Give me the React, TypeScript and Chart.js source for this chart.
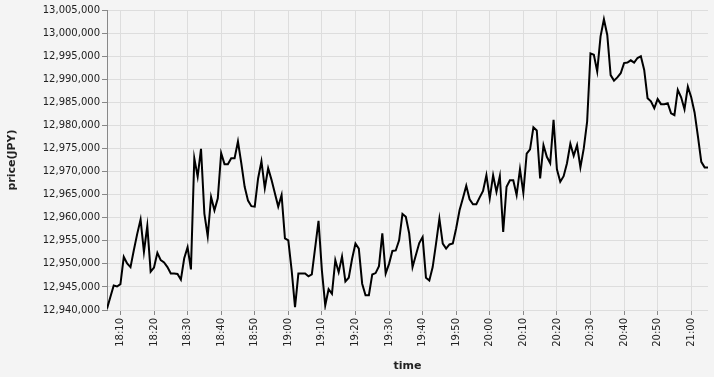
import React, { useEffect, useRef } from "react";
import { Chart, registerables } from "chart.js";

Chart.register(...registerables);

// First timestamp of the series (one price per minute)
const START_TIME = "18:06";

// Price in JPY, one value per minute from 18:06 to 21:05
const prices: number[] = [
  12940300, 12942800, 12945300, 12945100, 12945600, 12951500, 12950100, 12949300, 12953000, 12956500,
  12959600, 12952600, 12958200, 12948300, 12949200, 12952400, 12950800, 12950300, 12949300, 12947900,
  12947900, 12947800, 12946600, 12951200, 12953600, 12948800, 12972900, 12968900, 12974900, 12960900,
  12956000, 12964500, 12961600, 12964200, 12974000, 12971600, 12971600, 12972900, 12972900, 12976500,
  12971800, 12966700, 12963700, 12962500, 12962400, 12968500, 12972200, 12966400, 12970700, 12968200,
  12965300, 12962400, 12964900, 12955500, 12955100, 12948600, 12940600, 12947900, 12947900, 12947900,
  12947300, 12947700, 12953500, 12959300, 12948600, 12941000, 12944500, 12943500, 12950800, 12948200,
  12951600, 12946200, 12947000, 12951100, 12954400, 12953300, 12945700, 12943200, 12943200, 12947700,
  12948000, 12949500, 12956600, 12947900, 12950000, 12952800, 12952900, 12955100, 12960800, 12960200,
  12956600, 12949300, 12951900, 12954500, 12955800, 12947000, 12946400, 12949300, 12954400, 12959800,
  12954400, 12953300, 12954200, 12954400, 12957700, 12961600, 12964200, 12966900, 12964000, 12962900,
  12962900, 12964400, 12965800, 12969200, 12964200, 12969200, 12965600, 12969000, 12956900, 12966700,
  12968100, 12968100, 12964900, 12970500, 12965400, 12973900, 12974800, 12979600, 12978900, 12968500,
  12975700, 12973200, 12971800, 12981200, 12970500, 12967800, 12969000, 12971800, 12976000, 12973400,
  12975700, 12970900, 12975000, 12980800, 12995600, 12995300, 12991700, 12999300, 13003000, 12999600,
  12990900, 12989700, 12990400, 12991300, 12993500, 12993600, 12994100, 12993600, 12994600, 12995000,
  12992000, 12985900, 12985200, 12983700, 12985700, 12984600, 12984600, 12984800, 12982600, 12982200,
  12987700, 12986100, 12983500, 12988400, 12986100, 12982800, 12977600, 12972100, 12970900, 12970900,
];

// Tick labels of the time axis
const timeTicks = [
  "18:10", "18:20", "18:30", "18:40", "18:50", "19:00", "19:10", "19:20", "19:30",
  "19:40", "19:50", "20:00", "20:10", "20:20", "20:30", "20:40", "20:50", "21:00",
];

// Tick values of the price axis
const priceTicks = [
  12940000, 12945000, 12950000, 12955000, 12960000, 12965000, 12970000,
  12975000, 12980000, 12985000, 12990000, 12995000, 13000000, 13005000,
];

const toMinutes = (s: string) => {
  const [h, m] = s.split(":").map(Number);
  return h * 60 + m;
};
const toLabel = (mins: number) => {
  const h = Math.floor(mins / 60);
  const m = Math.round(mins - h * 60);
  return `${h}:${String(m).padStart(2, "0")}`;
};

const FONT = "'DejaVu Sans', sans-serif";

export default function App() {
  const ref = useRef<HTMLCanvasElement | null>(null);

  useEffect(() => {
    document.body.style.margin = "0";
    document.body.style.background = "#f4f4f4";
    const start = toMinutes(START_TIME);
    const points = prices.map((p, i) => ({ x: start + i, y: p }));
    const chart = new Chart(ref.current as HTMLCanvasElement, {
      type: "line",
      data: {
        datasets: [
          {
            data: points,
            borderColor: "#000",
            borderWidth: 2,
            pointRadius: 0,
            tension: 0,
            fill: false,
          },
        ],
      },
      options: {
        animation: false,
        responsive: false,
        devicePixelRatio: 1,
        layout: { padding: { top: 10, right: 6, left: 0, bottom: 0 } },
        plugins: { legend: { display: false }, tooltip: { enabled: false } },
        scales: {
          x: {
            type: "linear",
            min: start,
            max: start + prices.length - 1,
            afterBuildTicks: (s: any) => {
              s.ticks = timeTicks.map((t) => ({ value: toMinutes(t) }));
            },
            afterFit: (s: any) => {
              s.height = 67;
            },
            ticks: {
              autoSkip: false,
              minRotation: 90,
              maxRotation: 90,
              padding: 3,
              color: "#222",
              font: { family: FONT, size: 10 },
              callback: (v: any) => toLabel(Number(v)),
            },
            grid: { color: "#dddddd", tickColor: "#888", tickLength: 5, lineWidth: 1 },
            border: { display: false },
            title: {
              display: true,
              text: "time",
              color: "#222",
              font: { family: FONT, size: 11, weight: "bold" },
              padding: { top: 0, bottom: 4 },
            },
          },
          y: {
            type: "linear",
            min: priceTicks[0],
            max: priceTicks[priceTicks.length - 1],
            afterBuildTicks: (s: any) => {
              s.ticks = priceTicks.map((v) => ({ value: v }));
            },
            afterFit: (s: any) => {
              s.width = 107;
            },
            ticks: {
              padding: 2,
              color: "#222",
              font: { family: FONT, size: 10 },
              callback: (v: any) => Number(v).toLocaleString("en-US"),
            },
            grid: { color: "#dddddd", tickColor: "#888", tickLength: 5, lineWidth: 1 },
            border: { display: true, color: "#888", width: 1 },
            title: {
              display: true,
              text: "price(JPY)",
              color: "#222",
              font: { family: FONT, size: 11, weight: "bold" },
              padding: { top: 6, bottom: 0 },
            },
          },
        },
      },
    });
    return () => chart.destroy();
  }, []);

  return (
    <div
      style={{
        position: "absolute",
        left: 0,
        top: 0,
        width: 714,
        height: 377,
        background: "#f4f4f4",
      }}
    >
      <canvas ref={ref} width={714} height={377} style={{ width: 714, height: 377, display: "block" }} />
    </div>
  );
}
